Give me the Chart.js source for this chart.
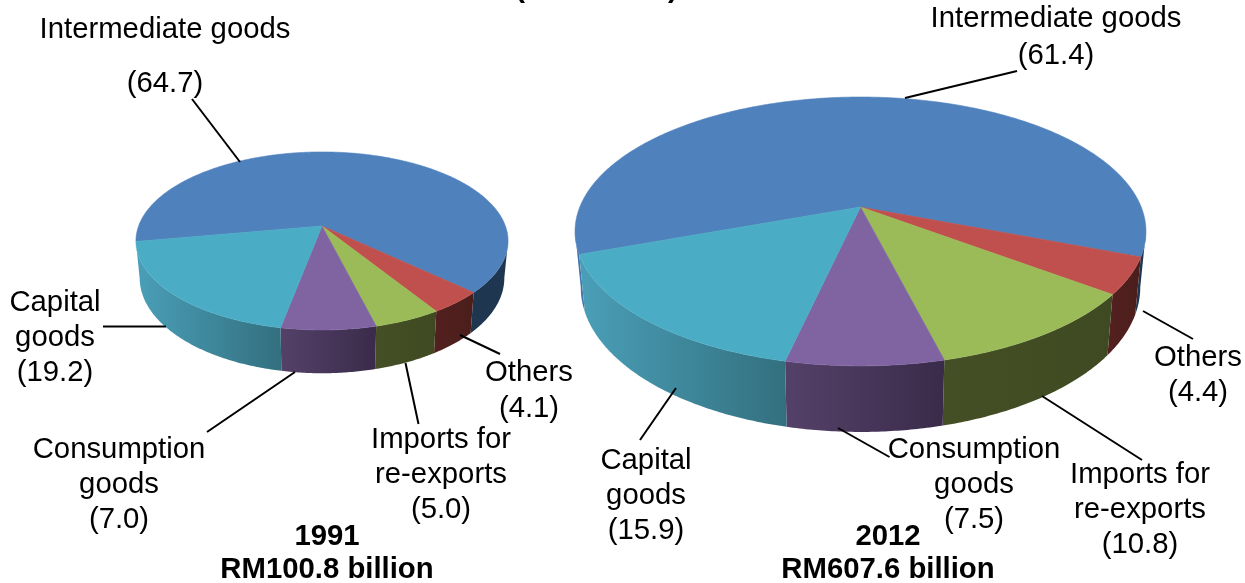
<!DOCTYPE html>
<html><head><meta charset="utf-8">
<style>html,body{margin:0;padding:0;background:#fff;overflow:hidden}canvas{display:block}</style>
<script src="https://cdn.jsdelivr.net/npm/chart.js@4"></script>
</head><body><canvas id="c" width="1245" height="583"></canvas>
<script>
const categoryLines = [['Intermediate goods'],['Others'],['Imports for','re-exports'],['Consumption','goods'],['Capital','goods']];
const categories = categoryLines.map(l => l.join(' '));
const values1991 = [64.7, 4.1, 5.0, 7.0, 19.2];
const values2012 = [61.4, 4.4, 10.8, 7.5, 15.9];
const years = ['1991', '2012'];
const totals = ['RM100.8 billion', 'RM607.6 billion'];
const clippedTitle = '(% of total)';

const topColors = ['#4F81BD','#C0504D','#9BBB59','#8064A2','#4BACC6'];
const wallFrom  = ['#1F3650','#52201E','#444F25','#544169','#4A9FB8'];
const wallTo    = ['#1F3650','#4A1E1C','#3F4A22','#3A2B4A','#33707F'];
const wallLeftBlue = '#4672AC';

// perspective geometry of each pie: apex, half width, half height, foreshortening, depth
const geometry = [
  {cx:322, cy:226, a:183.4, k:86.5, p:0.168, d:36, s:0.98},
  {cx:860.5, cy:207, a:280.7, k:130, p:0.182, d:54, s:0.98}
];
const rotations = [260, 250];

// label layout: x, first baseline, baseline of the value, leader line [x1,y1,x2,y2]
const labelLayout = [
 [
  {x:165, y:38,  vy:92,  l:[240,162,192,99]},
  {x:529, y:381, vy:417, l:[460,335,500,354]},
  {x:441, y:448, vy:518, l:[405.5,363,418.5,424]},
  {x:119, y:458, vy:528, l:[295,372,207,432]},
  {x:55,  y:311, vy:381, l:[166,326.5,103,326.5]}
 ],
 [
  {x:1056, y:27,  vy:64,  l:[905,98,1017,71]},
  {x:1198, y:366, vy:401, l:[1143,311,1193,339]},
  {x:1140, y:483, vy:553, l:[1042,396,1142,460]},
  {x:974,  y:458, vy:528, l:[838,428,889.5,457]},
  {x:646,  y:469, vy:539, l:[676,388,640,440]}
 ]
];
const titleLayout = [{x:327},{x:888}];

function project(g, ang, bottom){
  const u = Math.cos(ang), v = Math.sin(ang), w = 1 - g.p * v;
  const f = bottom ? g.s : 1;
  return [g.cx + f * g.a * u / w, g.cy + (g.k * v + (bottom ? g.d : 0)) / w];
}
function rim(g, a0, a1, bottom){
  const n = Math.max(2, Math.ceil(Math.abs(a1 - a0) / 0.01)), pts = [];
  for (let i = 0; i <= n; i++) pts.push(project(g, a0 + (a1 - a0) * i / n, bottom));
  return pts;
}
// parts of an arc that face the viewer (between the two silhouette points of the rim)
function visibleParts(g, a0, a1){
  const t = Math.asin(g.p), parts = [];
  for (let n = -1; n <= 2; n++) {
    const lo = Math.max(a0, t + n * 2 * Math.PI), hi = Math.min(a1, Math.PI - t + n * 2 * Math.PI);
    if (hi > lo) parts.push([lo, hi]);
  }
  return parts;
}
const pseudo3d = {
  id:'pseudo3d',
  beforeDatasetsDraw(chart){
    const ctx = chart.ctx;
    chart.data.datasets.forEach((ds, di) => {
      const g = geometry[di], arcs = chart.getDatasetMeta(di).data;
      arcs.forEach((arc, i) => {
        visibleParts(g, arc.startAngle, arc.endAngle).forEach(([lo, hi]) => {
          const top = rim(g, lo, hi, false), bot = rim(g, lo, hi, true).reverse();
          const xs = top.map(q => q[0]);
          const x0 = Math.min(...xs), x1 = Math.max(...xs);
          const left = (x0 + x1) / 2 < g.cx - g.a * 0.6;
          const gr = ctx.createLinearGradient(x0, 0, x1 + 0.01, 0);
          gr.addColorStop(0, i === 0 && left ? wallLeftBlue : wallFrom[i]);
          gr.addColorStop(1, i === 0 && left ? wallLeftBlue : wallTo[i]);
          ctx.beginPath();
          top.concat(bot).forEach((q, j) => j ? ctx.lineTo(q[0], q[1]) : ctx.moveTo(q[0], q[1]));
          ctx.closePath(); ctx.fillStyle = gr; ctx.fill();
        });
      });
      arcs.forEach((arc, i) => {
        ctx.beginPath(); ctx.moveTo(g.cx, g.cy);
        rim(g, arc.startAngle, arc.endAngle, false).forEach(q => ctx.lineTo(q[0], q[1]));
        ctx.closePath();
        ctx.fillStyle = ds.backgroundColor[i]; ctx.fill();
        ctx.strokeStyle = ds.backgroundColor[i]; ctx.lineWidth = 0.6; ctx.stroke();
      });
    });
    return false;
  },
  afterDraw(chart){
    const ctx = chart.ctx;
    ctx.save();
    ctx.textAlign = 'center'; ctx.textBaseline = 'alphabetic'; ctx.fillStyle = '#000';
    chart.data.datasets.forEach((ds, di) => {
      ds.data.forEach((val, i) => {
        const L = labelLayout[di][i];
        ctx.strokeStyle = '#000'; ctx.lineWidth = 2;
        ctx.beginPath(); ctx.moveTo(L.l[0], L.l[1]); ctx.lineTo(L.l[2], L.l[3]); ctx.stroke();
        ctx.font = '29.3px "Liberation Sans"';
        categoryLines[i].forEach((t, j) => ctx.fillText(t, L.x, L.y + j * 35));
        ctx.fillText('(' + val.toFixed(1) + ')', L.x, L.vy);
      });
      ctx.font = 'bold 29.3px "Liberation Sans"';
      ctx.fillText(years[di], titleLayout[di].x, 545);
      ctx.fillText(totals[di], titleLayout[di].x, 578);
    });
    ctx.font = 'bold 29.3px "Liberation Sans"';
    ctx.letterSpacing = '1px';
    ctx.fillText(clippedTitle, 597, -3);
    ctx.restore();
  }
};
new Chart(document.getElementById('c'), {
  type:'pie',
  data:{ labels:categories, datasets:[
    {label:years[0], data:values1991, backgroundColor:topColors, rotation:rotations[0]},
    {label:years[1], data:values2012, backgroundColor:topColors, rotation:rotations[1]}
  ]},
  options:{ responsive:false, animation:false,
    plugins:{legend:{display:false}, tooltip:{enabled:false}, title:{display:false}} },
  plugins:[pseudo3d]
});
</script></body></html>
